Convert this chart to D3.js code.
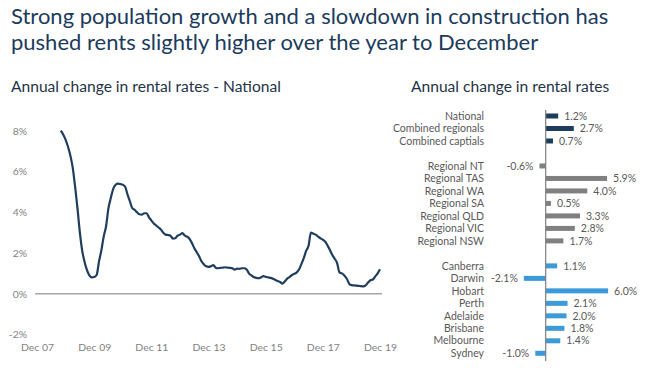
<!DOCTYPE html>
<html lang="en">
<head>
<meta charset="UTF-8">
<title>Rental rates</title>
<script src="https://cdn.jsdelivr.net/npm/d3@7"></script>
<style>
    body { margin: 0; background: #fff; }
    .title { font-family: Lato, sans-serif; font-size: 22px; fill: #1b3b5c; }
    .sub { font-family: Lato, sans-serif; font-size: 15.6px; fill: #1f3447; }
    .tick text { font-family: Lato, sans-serif; font-size: 10.4px; fill: #7f7f7f; }
    .lbl { font-family: Lato, sans-serif; font-size: 10.5px; fill: #595959; }
</style>
</head>
<body>
<div id="chart"></div>
<script>
// monthly national series, Oct 2008 .. Dec 2019 (%)
var lineStart = "2008-10";
var lineValues = [
    8.0, 7.8, 7.55, 7.2, 6.75, 6.2, 5.25, 4.2, 3.0, 2.1, 1.55, 1.15,
    0.9, 0.8, 0.82, 0.92, 1.6, 2.1, 2.8, 3.3, 4.2, 4.7, 5.15, 5.35,
    5.4, 5.38, 5.35, 5.25, 4.85, 4.55, 4.2, 4.12, 4.0, 3.9, 3.88, 3.95,
    3.95, 3.75, 3.6, 3.45, 3.35, 3.25, 3.15, 3.0, 2.9, 2.88, 2.85, 2.7,
    2.72, 2.85, 2.9, 2.97, 2.85, 2.8, 2.7, 2.5, 2.25, 2.05, 1.85, 1.6,
    1.45, 1.35, 1.32, 1.35, 1.4, 1.28, 1.25, 1.27, 1.28, 1.3, 1.28, 1.27,
    1.25, 1.18, 1.23, 1.22, 1.25, 1.25, 1.2, 1.0, 0.9, 0.82, 0.78, 0.76,
    0.8, 0.86, 0.83, 0.8, 0.78, 0.74, 0.68, 0.63, 0.58, 0.5, 0.6, 0.74,
    0.82, 0.92, 0.98, 1.05, 1.2, 1.45, 1.75, 2.1, 2.35, 3.0, 2.95, 2.9,
    2.8, 2.72, 2.65, 2.55, 2.35, 2.15, 1.9, 1.72, 1.5, 1.05, 1.0, 0.9,
    0.75, 0.5, 0.42, 0.41, 0.4, 0.39, 0.37, 0.36, 0.41, 0.55, 0.66, 0.7,
    0.85, 1.0, 1.2
];
var xTickLabels = ["Dec 07", "Dec 09", "Dec 11", "Dec 13", "Dec 15", "Dec 17", "Dec 19"];
var yTicks = [-2, 0, 2, 4, 6, 8];

// bar chart
var barNames = ["National", "Combined regionals", "Combined captials", "gap1",
    "Regional NT", "Regional TAS", "Regional WA", "Regional SA", "Regional QLD", "Regional VIC", "Regional NSW", "gap2",
    "Canberra", "Darwin", "Hobart", "Perth", "Adelaide", "Brisbane", "Melbourne", "Sydney"];
var barValues = [1.2, 2.7, 0.7, null,
    -0.6, 5.9, 4.0, 0.5, 3.3, 2.8, 1.7, null,
    1.1, -2.1, 6.0, 2.1, 2.0, 1.8, 1.4, -1.0];
var barGroups = ["top", "top", "top", null,
    "reg", "reg", "reg", "reg", "reg", "reg", "reg", null,
    "cap", "cap", "cap", "cap", "cap", "cap", "cap", "cap"];
var groupColors = { top: "#1c3d5e", reg: "#808080", cap: "#3d9ad9" };

var W = 660, H = 368;
var svg = d3.select("#chart").append("svg")
    .attr("width", W).attr("height", H);

// titles
svg.append("text").attr("class", "title").attr("x", 11).attr("y", 24)
    .text("Strong population growth and a slowdown in construction has");
svg.append("text").attr("class", "title").attr("x", 11).attr("y", 50)
    .text("pushed rents slightly higher over the year to December");
svg.append("text").attr("class", "sub").attr("x", 11).attr("y", 92)
    .text("Annual change in rental rates - National");
svg.append("text").attr("class", "sub").attr("x", 411).attr("y", 92)
    .text("Annual change in rental rates");

// ---- line chart
var parseM = d3.timeParse("%Y-%m");
var t0 = parseM(lineStart);
var lineData = lineValues.map(function(v, i) {
    return { date: d3.timeMonth.offset(t0, i), value: v };
});

var x = d3.scaleTime()
    .domain([parseM("2007-12"), parseM("2019-12")])
    .range([37, 380]);
var y = d3.scaleLinear().domain([-2, 8]).range([334.5, 130.7]);

var tickDates = xTickLabels.map(function(d, i) { return parseM((2007 + 2 * i) + "-12"); });

var xAxis = svg.append("g")
    .attr("transform", "translate(0," + 338 + ")")
    .call(d3.axisBottom(x).tickValues(tickDates).tickSize(0).tickPadding(6)
        .tickFormat(function(d, i) { return xTickLabels[i]; }));
xAxis.select(".domain").remove();

var yAxis = svg.append("g")
    .attr("transform", "translate(27,0)")
    .call(d3.axisLeft(y).tickValues(yTicks).tickSize(0).tickPadding(0)
        .tickFormat(function(d) { return d + "%"; }));
yAxis.select(".domain").remove();

// zero line
svg.append("line")
    .attr("x1", 35).attr("x2", 382)
    .attr("y1", y(0)).attr("y2", y(0))
    .attr("stroke", "#a6a6a6").attr("stroke-width", 1.5);

var line = d3.line()
    .x(function(d) { return x(d.date); })
    .y(function(d) { return y(d.value); })
    .curve(d3.curveMonotoneX);

svg.append("path")
    .datum(lineData)
    .attr("fill", "none")
    .attr("stroke", "#1f3e5e")
    .attr("stroke-width", 2.2)
    .attr("d", line);

// ---- bar chart
var bars = barNames.map(function(n, i) {
    return { name: n, value: barValues[i], group: barGroups[i] };
}).filter(function(d) { return d.value !== null; });

var by = d3.scalePoint().domain(barNames).range([116, 353.3]);
var bx = d3.scaleLinear().domain([-3, 7]).range([514.5, 618.5]);
var bh = 5;

svg.append("g").selectAll("rect")
    .data(bars)
    .enter()
    .append("rect")
    .attr("x", function(d) { return bx(Math.min(0, d.value)); })
    .attr("y", function(d) { return by(d.name) - bh / 2; })
    .attr("width", function(d) { return Math.abs(bx(d.value) - bx(0)); })
    .attr("height", bh)
    .attr("fill", function(d) { return groupColors[d.group]; });

svg.append("line")
    .attr("x1", bx(0)).attr("x2", bx(0))
    .attr("y1", 110).attr("y2", 361)
    .attr("stroke", "#7f7f7f").attr("stroke-width", 1.2);

svg.append("g").selectAll("text")
    .data(bars)
    .enter()
    .append("text")
    .attr("class", "lbl")
    .attr("x", 484)
    .attr("y", function(d) { return by(d.name); })
    .attr("dy", "0.35em")
    .attr("text-anchor", "end")
    .text(function(d) { return d.name; });

svg.append("g").selectAll("text")
    .data(bars)
    .enter()
    .append("text")
    .attr("class", "lbl")
    .attr("x", function(d) { return d.value < 0 ? bx(d.value) - 6 : bx(d.value) + 6; })
    .attr("y", function(d) { return by(d.name); })
    .attr("dy", "0.35em")
    .attr("text-anchor", function(d) { return d.value < 0 ? "end" : "start"; })
    .text(function(d) { return d.value.toFixed(1) + "%"; });
</script>
</body>
</html>
